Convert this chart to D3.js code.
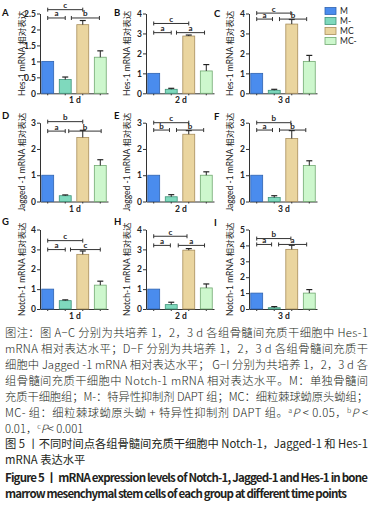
<!DOCTYPE html>
<html lang="zh">
<head>
    <meta charset="UTF-8">
    <title>Figure 5</title>
    <script src="https://cdn.jsdelivr.net/npm/d3@7.8.5/dist/d3.min.js"></script>
    <style>
        body { margin: 0; background: #fff; }
        text { font-family: "Lato", "Liberation Sans", "Noto Sans CJK SC", sans-serif; }
        .cap { font-family: "Noto Sans CJK SC", "Liberation Sans", sans-serif; fill: #231f20; }
    </style>
</head>
<body>
<div id="chart"></div>
<script type="text/javascript">
    // data
    const groups = ["M", "M-", "MC", "MC-"];
    const days = ["1 d", "2 d", "3 d"];
    const genes = ["Hes-1", "Jagged -1", "Notch-1"];
    const letters = ["A", "B", "C", "D", "E", "F", "G", "H", "I"];
    const yMax = [[2.5, 4, 4], [3, 3, 3], [4, 4, 5]];
    const yStep = [[0.5, 1, 1], [1, 1, 1], [1, 1, 1]];

    const hesMean = [[1.0, 0.43, 2.15, 1.13], [1.0, 0.2, 2.87, 1.12], [1.0, 0.15, 3.47, 1.6]];
    const hesErr = [[0, 0.08, 0.13, 0.2], [0, 0.05, 0.05, 0.32], [0, 0.05, 0.23, 0.3]];
    const jagMean = [[1.0, 0.22, 2.44, 1.37], [1.0, 0.18, 2.56, 1.0], [1.0, 0.15, 2.4, 1.37]];
    const jagErr = [[0, 0.03, 0.27, 0.22], [0, 0.08, 0.14, 0.13], [0, 0.07, 0.3, 0.18]];
    const notMean = [[1.0, 0.42, 2.75, 1.2], [1.0, 0.22, 2.96, 1.06], [1.0, 0.08, 3.75, 1.0]];
    const notErr = [[0, 0.04, 0.17, 0.2], [0, 0.12, 0.08, 0.2], [0, 0.07, 0.26, 0.22]];

    // significance brackets: [from index, to index, value level, label]
    const brackets = [
        [[0, 2, 2.62, "c"], [0, 1, 2.36, "a"], [1.35, 2.95, 2.36, "b"]],
        [[0, 2, 3.5, "c"], [0, 1, 3.04, "a"], [1.3, 2.9, 3.04, "a"]],
        [[0, 1.95, 4.02, "c"], [0, 0.9, 3.72, "a"], [1.3, 2.85, 3.72, "b"]],
        [[0, 2, 3.04, "b"], [0, 1, 2.68, "a"], [1.2, 3.05, 2.68, "b"]],
        [[0, 2, 3.0, "c"], [0, 0.9, 2.72, "b"], [1.3, 2.85, 2.72, "b"]],
        [[0, 1.95, 3.0, "b"], [0, 0.9, 2.72, "a"], [1.3, 2.8, 2.72, "b"]],
        [[0, 2, 3.44, "c"], [0, 1, 2.99, "a"], [1.3, 3, 2.99, "c"]],
        [[0, 1.9, 3.66, "c"], [0, 0.95, 3.2, "a"], [1.4, 2.9, 3.2, "a"]],
        [[0, 1.95, 4.43, "b"], [0, 0.85, 4.06, "a"], [1.25, 2.85, 4.06, "a"]]
    ];

    const means = [hesMean, jagMean, notMean];
    const errs = [hesErr, jagErr, notErr];

    const fills = ["#4a8cee", "#7fd9bd", "#ead59f", "#cdf7cd"];
    const strokes = ["#2f63b0", "#3f9479", "#a88e5c", "#71a971"];

    const width = 384, height = 507;
    const axisX = [40, 146, 249];
    const rowTop = [13.5, 122.7, 229.5];
    const rowZero = [93.3, 201.5, 309];
    const titleX = [21.5, 127, 230];
    const letterPos = [[2, 16], [114, 16], [214, 17]];
    const letterDy = [0, 103, 209];

    const svg = d3.select('#chart')
        .append('svg')
        .attr('width', width)
        .attr('height', height);

    for (let r = 0; r < 3; r++) {
        for (let c = 0; c < 3; c++) {
            const ax = axisX[c];
            const g = svg.append("g");
            const x = d3.scaleBand().domain(groups).range([ax, ax + 68])
                .paddingInner(0.32).paddingOuter(0.1);
            const y = d3.scaleLinear().domain([0, yMax[r][c]]).range([rowZero[r], rowTop[r]]);
            const xi = d3.scaleLinear().domain([0, 3])
                .range([x(groups[0]) + x.bandwidth() / 2, x(groups[3]) + x.bandwidth() / 2]);

            const vals = means[r][c].map((v, i) => ({g: groups[i], v: v, e: errs[r][c][i], i: i}));

            // y axis
            const ticks = d3.range(0, yMax[r][c] + 1e-6, yStep[r][c]);
            const yAxis = d3.axisLeft(y).tickValues(ticks).tickSize(3).tickSizeOuter(0)
                .tickFormat(d3.format("~g"));
            const ya = g.append("g").attr("transform", `translate(${ax},0)`).call(yAxis);
            ya.select(".domain").attr("stroke", "#333");
            ya.selectAll(".tick line").attr("stroke", "#333");
            ya.selectAll(".tick text").attr("font-size", 8.5).attr("font-weight", "bold")
                .attr("font-family", "Lato, sans-serif")
                .attr("fill", "#222").attr("x", -4);

            // x axis
            const xAxis = d3.axisBottom(x).tickSize(2).tickSizeOuter(0).tickFormat("");
            const xa = g.append("g").attr("transform", `translate(0,${rowZero[r]})`).call(xAxis);
            xa.select(".domain").attr("stroke", "#333");
            xa.selectAll(".tick line").attr("stroke", "#333");

            // bars
            g.selectAll("rect.bar").data(vals).join("rect")
                .attr("class", "bar")
                .attr("x", d => x(d.g))
                .attr("y", d => y(d.v))
                .attr("width", x.bandwidth())
                .attr("height", d => y(0) - y(d.v))
                .attr("fill", d => fills[d.i])
                .attr("stroke", d => strokes[d.i])
                .attr("stroke-width", 0.8);

            // error bars
            const eb = vals.filter(d => d.e > 0);
            g.selectAll("line.err").data(eb).join("line")
                .attr("x1", d => x(d.g) + x.bandwidth() / 2)
                .attr("x2", d => x(d.g) + x.bandwidth() / 2)
                .attr("y1", d => y(d.v))
                .attr("y2", d => y(d.v + d.e))
                .attr("stroke", "#222").attr("stroke-width", 1);
            g.selectAll("line.cap").data(eb).join("line")
                .attr("x1", d => x(d.g) + x.bandwidth() / 2 - 3)
                .attr("x2", d => x(d.g) + x.bandwidth() / 2 + 3)
                .attr("y1", d => y(d.v + d.e))
                .attr("y2", d => y(d.v + d.e))
                .attr("stroke", "#222").attr("stroke-width", 1.2);

            // significance brackets
            const br = brackets[r * 3 + c];
            br.forEach(b => {
                const x1 = xi(b[0]), x2 = xi(b[1]), yy = y(b[2]);
                const col = "#333";
                g.append("line").attr("x1", x1).attr("x2", x2).attr("y1", yy).attr("y2", yy)
                    .attr("stroke", col).attr("stroke-width", 1);
                [x1, x2].forEach(xx => g.append("line").attr("x1", xx).attr("x2", xx)
                    .attr("y1", yy - 2).attr("y2", yy + 2).attr("stroke", col).attr("stroke-width", 1));
                g.append("text").attr("x", (x1 + x2) / 2).attr("y", yy - 1.5)
                    .attr("text-anchor", "middle").attr("font-size", 8).attr("font-weight", "bold")
                    .attr("fill", "#222").text(b[3]);
            });

            // x label
            g.append("text").attr("x", ax + 35).attr("y", rowZero[r] + 10)
                .attr("text-anchor", "middle").attr("font-size", 8.5).attr("font-weight", "bold")
                .attr("fill", "#222").text(days[c]);

            // y title
            const cy = (rowTop[r] + rowZero[r]) / 2;
            g.append("text")
                .attr("transform", `translate(${titleX[c] + 3},${cy}) rotate(-90)`)
                .attr("text-anchor", "middle").attr("font-size", 8.5)
                .attr("font-family", "'Noto Sans CJK SC', sans-serif")
                .attr("fill", "#222").text(genes[r] + " mRNA 相对表达");

            // panel letter
            g.append("text").attr("x", letterPos[c][0]).attr("y", letterPos[c][1] + letterDy[r])
                .attr("font-size", 9.5).attr("font-weight", "bold").attr("fill", "#111")
                .text(letters[r * 3 + c]);
        }
    }

    // legend
    const leg = svg.append("g");
    groups.forEach((gname, i) => {
        leg.append("rect").attr("x", 325).attr("y", 7.5 + i * 10).attr("width", 11).attr("height", 7)
            .attr("fill", fills[i]).attr("stroke", strokes[i]).attr("stroke-width", 0.8);
        leg.append("text").attr("x", 340).attr("y", 14 + i * 10).attr("font-size", 8.5)
            .attr("fill", "#222").text(gname);
    });

    // caption
    const capLines = [
        ["图注：图 A−C 分别为共培养 1，2，3 d 各组骨髓间充质干细胞中 Hes-1", 337],
        ["mRNA 相对表达水平；D−F 分别为共培养 1，2，3 d 各组骨髓间充质干", 353],
        ["细胞中 Jagged -1 mRNA 相对表达水平； G−I 分别为共培养 1，2，3 d 各", 369],
        ["组骨髓间充质干细胞中 Notch-1 mRNA 相对表达水平。M：单独骨髓间", 385],
        ["充质干细胞组；M-：特异性抑制剂 DAPT 组；MC：细粒棘球蚴原头蚴组；", 401]
    ];
    capLines.forEach(l => {
        svg.append("text").attr("class", "cap").attr("x", 5).attr("y", l[1])
            .attr("font-size", 11.3).attr("font-weight", 300)
            .attr("textLength", 363).attr("lengthAdjust", "spacing")
            .text(l[0]);
    });
    // lines with superscripts
    const t6 = svg.append("text").attr("class", "cap").attr("x", 5).attr("y", 417)
        .attr("font-size", 11.3).attr("font-weight", 300)
        .attr("textLength", 363).attr("lengthAdjust", "spacing");
    t6.append("tspan").text("MC- 组：细粒棘球蚴原头蚴 + 特异性抑制剂 DAPT 组。");
    t6.append("tspan").attr("font-size", 7).attr("dy", -4).text("a");
    t6.append("tspan").attr("font-style", "italic").attr("dy", 4).text("P");
    t6.append("tspan").text(" < 0.05，");
    t6.append("tspan").attr("font-size", 7).attr("dy", -4).text("b");
    t6.append("tspan").attr("font-style", "italic").attr("dy", 4).text("P");
    t6.append("tspan").text(" <");
    const t7 = svg.append("text").attr("class", "cap").attr("x", 5).attr("y", 433)
        .attr("font-size", 11.3).attr("font-weight", 300);
    t7.append("tspan").text("0.01，");
    t7.append("tspan").attr("font-size", 7).attr("dy", -4).text("c");
    t7.append("tspan").attr("font-style", "italic").attr("dy", 4).text("P");
    t7.append("tspan").text("< 0.001");

    svg.append("text").attr("class", "cap").attr("x", 5).attr("y", 448).attr("font-size", 11.3)
        .attr("textLength", 363).attr("lengthAdjust", "spacing")
        .text("图 5 丨不同时间点各组骨髓间充质干细胞中 Notch-1，Jagged-1 和 Hes-1");
    svg.append("text").attr("class", "cap").attr("x", 5).attr("y", 464).attr("font-size", 11.3)
        .text("mRNA 表达水平");
    svg.append("text").attr("class", "cap").attr("x", 5).attr("y", 482).attr("font-size", 11.5)
        .attr("font-weight", "bold").attr("textLength", 363).attr("lengthAdjust", "spacing")
        .attr("font-family", "Lato, 'Noto Sans CJK SC', sans-serif")
        .text("Figure 5  丨  mRNA expression levels of Notch-1, Jagged-1 and Hes-1 in bone");
    svg.append("text").attr("class", "cap").attr("x", 5).attr("y", 498).attr("font-size", 11.5)
        .attr("font-weight", "bold").attr("textLength", 342).attr("lengthAdjust", "spacing")
        .attr("font-family", "Lato, 'Noto Sans CJK SC', sans-serif")
        .text("marrow mesenchymal stem cells of each group at different time points");
</script>
</body>
</html>
